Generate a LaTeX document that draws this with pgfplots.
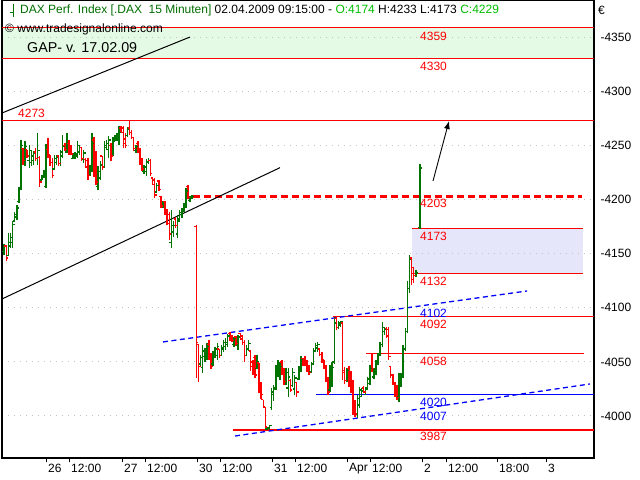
\documentclass[border=0pt]{standalone}
\usepackage{fontspec}
\setmainfont{Liberation Sans}
\usepackage{pgfplots}
\usepackage{pgfplotstable}
\pgfplotsset{compat=1.18}
\usetikzlibrary{arrows.meta}

\definecolor{upgreen}{RGB}{0,115,0}
\definecolor{dnred}{RGB}{255,0,0}
\definecolor{gapfill}{RGB}{228,250,228}
\definecolor{boxfill}{RGB}{230,230,250}
\definecolor{gridgray}{RGB}{195,195,195}
\definecolor{hdrgreen}{RGB}{0,110,0}
\definecolor{ohlcgreen}{RGB}{0,190,0}
\newcommand\sz{\fontsize{12bp}{14bp}\selectfont}

% 15 min bars, t = bar index (0 = first bar of 26.03.), rising bars
\pgfplotstableread{
t o h l c
-20 4152 4159 4149 4157
-18 4148 4169 4148 4160
-17 4157 4169 4155 4165
-16 4160 4180 4155 4177
-15 4180 4188 4179 4186
-14 4184 4195 4181 4192
-13 4198 4212 4197 4210
-12 4210 4255 4209 4250
-10 4236 4254 4231 4249
-8 4236 4250 4229 4245
-7 4234 4246 4231 4240
-6 4236 4245 4232 4243
-4 4238 4261 4232 4245
-2 4218 4223 4218 4222
-1 4221 4227 4220 4225
0 4212 4251 4211 4246
4 4228 4241 4227 4238
5 4234 4241 4232 4239
7 4233 4246 4231 4244
8 4240 4260 4238 4249
10 4244 4261 4243 4252
13 4238 4243 4237 4241
14 4238 4244 4237 4242
15 4240 4254 4238 4250
16 4244 4250 4241 4248
18 4237 4246 4234 4243
21 4222 4232 4222 4230
22 4228 4261 4225 4252
25 4212 4231 4209 4226
26 4220 4236 4218 4232
28 4230 4254 4229 4250
29 4248 4255 4246 4252
30 4246 4259 4238 4255
32 4240 4258 4240 4254
33 4254 4260 4254 4258
34 4256 4261 4254 4259
35 4257 4268 4250 4262
39 4259 4267 4258 4265
43 4245 4250 4243 4249
47 4226 4232 4224 4230
48 4226 4237 4222 4235
49 4234 4238 4233 4236
53 4207 4215 4206 4213
56 4194 4199 4192 4198
60 4160 4190 4155 4176
61 4170 4180 4165 4176
63 4168 4186 4164 4180
64 4182 4190 4179 4188
65 4186 4192 4183 4190
66 4190 4197 4188 4195
67 4194 4211 4192 4208
69 4199 4203 4198 4202
70 4201 4204 4200 4203
74 4048 4056 4046 4054
75 4045 4066 4040 4060
76 4055 4063 4050 4060
77 4058 4067 4052 4064
80 4048 4060 4046 4056
81 4055 4064 4054 4062
82 4056 4067 4052 4064
84 4056 4066 4055 4063
85 4062 4070 4059 4068
86 4064 4072 4061 4068
87 4066 4076 4064 4074
90 4066 4073 4064 4072
92 4065 4075 4061 4073
96 4056 4066 4055 4062
97 4062 4070 4060 4067
101 4044 4056 4043 4050
106 3988 3990 3987 3989
107 3989 3992 3987 3991
108 4008 4026 4006 4022
109 4020 4029 4014 4026
110 4025 4047 4024 4044
111 4040 4052 4036 4048
112 4040 4050 4033 4046
115 4032 4044 4029 4040
116 4026 4044 4018 4036
118 4028 4044 4027 4040
119 4025 4038 4019 4035
121 4034 4046 4033 4043
122 4043 4055 4041 4052
127 4041 4050 4040 4048
128 4048 4063 4047 4060
129 4060 4067 4059 4065
130 4063 4068 4059 4066
136 4024 4047 4022 4040
137 4030 4050 4027 4045
138 4050 4091 4048 4086
140 4082 4088 4080 4086
141 4084 4088 4082 4087
144 4033 4044 4031 4042
149 4002 4019 3998 4016
150 4010 4027 4007 4024
151 4018 4026 4018 4023
153 4020 4027 4019 4025
154 4026 4036 4026 4034
155 4030 4047 4029 4044
157 4036 4044 4034 4042
158 4040 4052 4038 4050
159 4050 4058 4047 4056
160 4056 4068 4055 4066
161 4066 4087 4064 4082
162 4078 4082 4075 4080
169 4018 4040 4013 4036
170 4034 4040 4027 4038
171 4036 4066 4035 4062
172 4062 4081 4060 4078
173 4078 4125 4077 4118
174 4118 4149 4114 4145
177 4130 4135 4128 4132
179 4174 4233 4173 4229
}\upbars

% falling bars
\pgfplotstableread{
t o h l c
-19 4157 4158 4143 4146
-11 4247 4248 4232 4236
-9 4246 4246 4238 4240
-5 4244 4248 4236 4238
-3 4239 4240 4212 4216
1 4246 4257 4238 4240
2 4241 4241 4231 4234
3 4234 4238 4220 4222
6 4240 4241 4231 4233
9 4250 4252 4245 4246
11 4252 4255 4241 4245
12 4248 4250 4241 4242
17 4248 4248 4236 4238
19 4237 4238 4229 4230
20 4236 4238 4218 4222
23 4255 4258 4221 4228
24 4236 4245 4213 4216
27 4240 4240 4227 4230
31 4250 4252 4236 4240
36 4266 4268 4261 4262
37 4266 4268 4248 4252
38 4256 4261 4248 4250
40 4266 4273 4260 4262
41 4262 4264 4256 4257
42 4257 4258 4245 4247
44 4252 4254 4243 4245
45 4245 4248 4232 4234
46 4236 4238 4226 4228
50 4236 4237 4222 4224
51 4220 4220 4213 4214
52 4218 4220 4201 4204
54 4217 4218 4208 4209
55 4203 4203 4192 4194
57 4198 4199 4186 4188
58 4190 4191 4176 4178
59 4186 4188 4163 4168
62 4182 4184 4174 4176
68 4212 4213 4200 4202
72 4175 4176 4035 4068
73 4066 4066 4031 4046
78 4066 4070 4052 4055
79 4058 4058 4043 4046
83 4062 4062 4054 4056
88 4076 4078 4069 4072
89 4074 4075 4068 4070
91 4073 4074 4065 4067
93 4076 4077 4070 4071
94 4074 4075 4066 4068
95 4068 4070 4050 4056
98 4060 4061 4042 4046
99 4050 4052 4038 4042
100 4054 4056 4035 4038
102 4049 4049 4021 4024
103 4030 4031 4016 4020
104 4015 4015 4007 4009
105 4008 4008 3987 3990
113 4050 4052 4038 4040
114 4042 4044 4029 4032
117 4033 4034 4022 4024
120 4031 4031 4018 4022
123 4053 4054 4046 4049
124 4050 4055 4046 4048
125 4048 4052 4041 4043
126 4044 4047 4038 4040
131 4062 4063 4055 4057
132 4057 4059 4049 4052
133 4052 4052 4043 4045
134 4046 4047 4031 4034
135 4035 4036 4019 4022
139 4090 4092 4079 4082
142 4086 4087 4033 4040
143 4042 4045 4030 4033
145 4044 4046 4027 4030
146 4032 4042 4021 4024
147 4028 4033 4001 4004
148 4012 4015 3999 4002
152 4026 4028 4021 4022
156 4058 4058 4041 4044
163 4081 4082 4072 4074
164 4080 4082 4052 4055
165 4046 4046 4035 4038
166 4038 4039 4029 4031
167 4030 4031 4018 4021
168 4024 4029 4015 4017
175 4146 4147 4121 4126
176 4137 4138 4123 4130
}\dnbars

\pgfplotsset{
  level/.style={line width=1.2bp, dnred},
  range/.style={draw=none, error bars/.cd, y dir=plus, y explicit, error mark=none,
    error bar style={draw=#1, line width=1.5bp, solid}},
  tick/.style={only marks, mark=-, mark size=1bp, color=#1, mark options={draw=#1, line width=1.4bp, solid}},
}

\begin{document}
\begin{tikzpicture}
\begin{axis}[
  scale only axis, width=592bp, height=458bp,
  at={(0,0)}, anchor=south west,
  xmin=2, xmax=594, ymin=3961.2, ymax=4384.3,
  set layers, clip=false,
  axis line style={line width=1.2bp},
  ytick={4000,4050,...,4350},
  yticklabels={-4000,-4050,-4100,-4150,-4200,-4250,-4300,-4350},
  ytick pos=right, yticklabel pos=right,
  ytick style={draw=none},
  yticklabel style={anchor=west, xshift=-1bp},
  ymajorgrids,
  grid style={gridgray, line width=1bp, dash pattern=on 1bp off 5bp},
  xtick={46,69,122,145,197,220,272,295,347,370,422,446,497,546},
  xticklabels={26,12:00,27,12:00,30,12:00,31,12:00,Apr,12:00,2,12:00,18:00,3},
  xtick pos=bottom, tick align=outside, major tick length=4bp,
  xtick style={black, line width=0.8bp},
  xticklabel style={anchor=north west, inner sep=0pt, xshift=2bp, yshift=-1.5bp},
  tick label style={font=\sz},
]
% shaded zones
\addplot[fill=gapfill, draw=none, on layer=axis background] coordinates {(2,4330) (594,4330) (594,4359) (2,4359)};
\addplot[fill=boxfill, draw=none, on layer=axis background] coordinates {(412,4132) (583,4132) (583,4173) (412,4173)};

% horizontal levels
\addplot[level] coordinates {(2,4359) (594,4359)};
\addplot[level] coordinates {(2,4330) (594,4330)};
\addplot[level] coordinates {(2,4273) (594,4273)};
\addplot[dnred, line width=2.5bp, dash pattern=on 7bp off 4bp] coordinates {(193,4203) (582,4203)};
\addplot[level] coordinates {(412,4173) (583,4173)};
\addplot[level] coordinates {(412,4132) (583,4132)};
\addplot[level] coordinates {(333,4092) (594,4092)};
\addplot[level] coordinates {(366,4058) (584,4058)};
\addplot[line width=1.2bp, blue] coordinates {(316,4020) (594,4020)};
\addplot[level] coordinates {(233,3987) (594,3987)};

% trend lines
\addplot[black, line width=1bp] coordinates {(2,4279.9) (190,4350.1)};
\addplot[black, line width=1bp] coordinates {(2,4108.1) (280,4229.4)};
\addplot[blue, line width=1.3bp, dash pattern=on 5bp off 3.5bp] coordinates {(163,4068.4) (527,4115.5)};
\addplot[blue, line width=1.3bp, dash pattern=on 5bp off 3.5bp] coordinates {(235,3981.5) (590,4029.6)};
\addplot[black, line width=0.9bp, -{Latex[length=8bp,width=6bp]}] coordinates {(433,4217.1) (449,4272.5)};

% OHLC bars: high-low range
\addplot[range=upgreen] table[x expr=46+2.089*\thisrow{t}, y=l, y error plus expr=\thisrow{h}-\thisrow{l}] {\upbars};
\addplot[range=dnred] table[x expr=46+2.089*\thisrow{t}, y=l, y error plus expr=\thisrow{h}-\thisrow{l}] {\dnbars};
% open / close ticks
\addplot[tick=upgreen] table[x expr=46+2.089*\thisrow{t}-1, y=o] {\upbars};
\addplot[tick=upgreen] table[x expr=46+2.089*\thisrow{t}+1, y=c] {\upbars};
\addplot[tick=dnred] table[x expr=46+2.089*\thisrow{t}-1, y=o] {\dnbars};
\addplot[tick=dnred] table[x expr=46+2.089*\thisrow{t}+1, y=c] {\dnbars};

% header
\draw[upgreen, line width=1bp] (axis cs:13,4380.6) -- (axis cs:13,4368.6)
  (axis cs:10,4373.2) -- (axis cs:13,4373.2);
\node[anchor=west, inner sep=0pt, font=\sz] at (axis cs:20,4375.1)
  {\textcolor{hdrgreen}{DAX Perf. Index [.DAX\ \ 15 Minuten]} 02.04.2009 09:15:00 - \textcolor{ohlcgreen}{O:4174} H:4233 L:4173 \textcolor{ohlcgreen}{C:4229}};
\node[anchor=west, inner sep=0pt, font=\sz] at (axis cs:5,4357.5) {© www.tradesignalonline.com};
\node[anchor=west, inner sep=0pt, font=\fontsize{14.3bp}{16bp}\selectfont] at (axis cs:27,4340.0) {GAP- v. 17.02.09};
\node[anchor=west, inner sep=0pt, font=\sz] at (axis cs:598,4375.1) {€};

% level labels
\begin{scope}[every node/.style={anchor=west, inner sep=0pt, font=\sz}]
\node[dnred] at (axis cs:18,4279.9) {4273};
\node[dnred] at (axis cs:420,4351.0) {4359};
\node[dnred] at (axis cs:420,4323.3) {4330};
\node[dnred] at (axis cs:420,4196.5) {4203};
\node[dnred] at (axis cs:420,4165.6) {4173};
\node[dnred] at (axis cs:420,4124.1) {4132};
\node[blue] at (axis cs:420,4094.9) {4102};
\node[dnred] at (axis cs:420,4085.0) {4092};
\node[dnred] at (axis cs:420,4050.8) {4058};
\node[blue] at (axis cs:420,4012.7) {4020};
\node[blue] at (axis cs:420,4000.0) {4007};
\node[dnred] at (axis cs:420,3980.9) {3987};
\end{scope}
\end{axis}
\pgfresetboundingbox
\path[use as bounding box] (-2bp,-22bp) rectangle (638bp,458bp);
\end{tikzpicture}
\end{document}
